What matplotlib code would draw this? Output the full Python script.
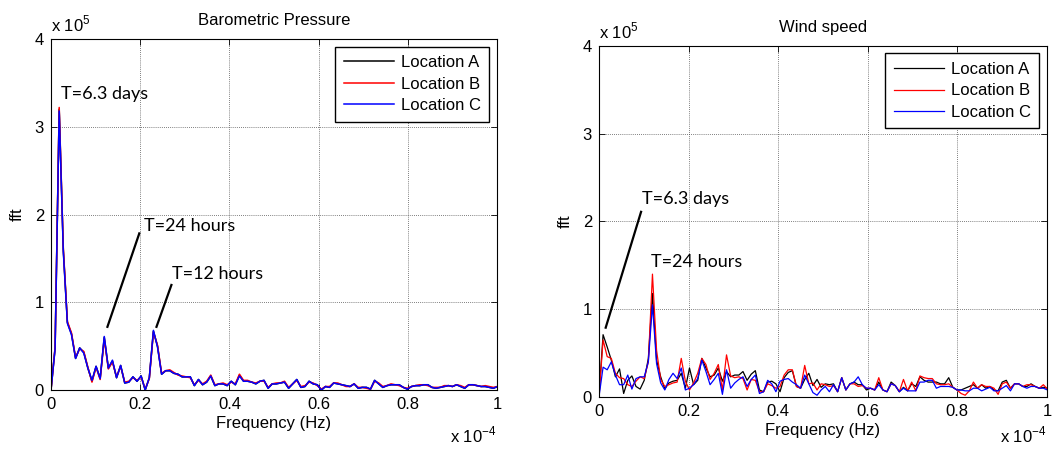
import numpy as np
import matplotlib
matplotlib.use('Agg')
import matplotlib.pyplot as plt

plt.rcParams['font.family'] = ['Liberation Sans', 'DejaVu Sans']
plt.rcParams['mathtext.fontset'] = 'custom'
plt.rcParams['mathtext.rm'] = 'Liberation Sans'

# FFT bins: record length of 12.6 days -> bin width 1/(12.6 d)
record_days = 12.6

# barometric pressure spectra (units of 1e5)
pres_a = [0.00, 0.48, 3.20, 1.60, 0.77, 0.64, 0.36, 0.48, 0.43, 0.25,
          0.10, 0.27, 0.13, 0.60, 0.25, 0.33, 0.14, 0.28, 0.08, 0.09,
          0.15, 0.10, 0.16, 0.00, 0.14, 0.67, 0.50, 0.18, 0.22, 0.22,
          0.19, 0.18, 0.15, 0.15, 0.15, 0.05, 0.12, 0.06, 0.09, 0.16,
          0.05, 0.07, 0.07, 0.05, 0.10, 0.06, 0.17, 0.10, 0.10, 0.09,
          0.07, 0.10, 0.11, 0.02, 0.07, 0.07, 0.08, 0.09, 0.02, 0.07,
          0.12, 0.03, 0.04, 0.10, 0.07, 0.06, 0.00, 0.04, 0.03, 0.08,
          0.07, 0.06, 0.05, 0.04, 0.07, 0.02, 0.03, 0.03, 0.01, 0.11,
          0.07, 0.03, 0.05, 0.06, 0.06, 0.06, 0.03, 0.01, 0.04, 0.05,
          0.05, 0.06, 0.06, 0.03, 0.02, 0.03, 0.04, 0.05, 0.04, 0.06,
          0.04, 0.02, 0.06, 0.06, 0.05, 0.04, 0.04, 0.03, 0.02, 0.04]
pres_b = [0.00, 0.49, 3.22, 1.62, 0.78, 0.65, 0.37, 0.47, 0.44, 0.26,
          0.09, 0.26, 0.12, 0.58, 0.24, 0.32, 0.15, 0.27, 0.09, 0.10,
          0.14, 0.11, 0.15, 0.01, 0.13, 0.66, 0.51, 0.19, 0.22, 0.23,
          0.20, 0.17, 0.16, 0.15, 0.14, 0.06, 0.11, 0.07, 0.10, 0.17,
          0.06, 0.07, 0.08, 0.06, 0.09, 0.07, 0.18, 0.11, 0.11, 0.09,
          0.08, 0.10, 0.10, 0.03, 0.07, 0.08, 0.08, 0.10, 0.03, 0.07,
          0.11, 0.04, 0.05, 0.09, 0.08, 0.05, 0.01, 0.04, 0.04, 0.08,
          0.08, 0.06, 0.04, 0.04, 0.07, 0.03, 0.03, 0.02, 0.01, 0.10,
          0.08, 0.04, 0.05, 0.07, 0.06, 0.05, 0.03, 0.02, 0.04, 0.05,
          0.06, 0.06, 0.05, 0.03, 0.03, 0.03, 0.05, 0.05, 0.04, 0.06,
          0.05, 0.03, 0.06, 0.06, 0.05, 0.04, 0.05, 0.04, 0.03, 0.04]
pres_c = [0.00, 0.47, 3.18, 1.58, 0.76, 0.63, 0.36, 0.48, 0.42, 0.25,
          0.11, 0.27, 0.13, 0.61, 0.25, 0.34, 0.14, 0.28, 0.08, 0.09,
          0.15, 0.10, 0.16, 0.00, 0.14, 0.68, 0.49, 0.18, 0.22, 0.22,
          0.19, 0.18, 0.15, 0.15, 0.15, 0.05, 0.12, 0.06, 0.09, 0.16,
          0.05, 0.07, 0.07, 0.05, 0.10, 0.06, 0.16, 0.10, 0.10, 0.09,
          0.07, 0.10, 0.11, 0.02, 0.07, 0.07, 0.08, 0.09, 0.02, 0.07,
          0.12, 0.03, 0.04, 0.10, 0.07, 0.06, 0.00, 0.04, 0.03, 0.08,
          0.07, 0.06, 0.05, 0.04, 0.07, 0.02, 0.03, 0.03, 0.01, 0.11,
          0.07, 0.03, 0.05, 0.06, 0.06, 0.06, 0.03, 0.01, 0.04, 0.05,
          0.05, 0.06, 0.06, 0.03, 0.02, 0.03, 0.04, 0.05, 0.04, 0.06,
          0.04, 0.02, 0.06, 0.06, 0.05, 0.04, 0.04, 0.03, 0.02, 0.04]

# wind speed spectra (units of 1e5)
wind_a = [0.00, 0.71, 0.57, 0.42, 0.23, 0.32, 0.04, 0.19, 0.24, 0.12,
          0.09, 0.19, 0.44, 1.18, 0.42, 0.23, 0.09, 0.16, 0.18, 0.19,
          0.27, 0.10, 0.33, 0.14, 0.19, 0.44, 0.33, 0.23, 0.25, 0.33,
          0.18, 0.29, 0.23, 0.25, 0.25, 0.29, 0.19, 0.26, 0.30, 0.08,
          0.06, 0.17, 0.18, 0.15, 0.06, 0.22, 0.28, 0.30, 0.12, 0.10,
          0.20, 0.27, 0.13, 0.20, 0.11, 0.15, 0.14, 0.15, 0.06, 0.22,
          0.08, 0.15, 0.17, 0.14, 0.14, 0.08, 0.10, 0.08, 0.17, 0.08,
          0.06, 0.17, 0.13, 0.06, 0.11, 0.07, 0.15, 0.12, 0.23, 0.19,
          0.17, 0.17, 0.17, 0.15, 0.15, 0.22, 0.11, 0.08, 0.08, 0.10,
          0.12, 0.14, 0.10, 0.14, 0.10, 0.12, 0.08, 0.07, 0.17, 0.19,
          0.10, 0.15, 0.15, 0.12, 0.12, 0.15, 0.12, 0.10, 0.11, 0.10]
wind_b = [0.00, 0.65, 0.46, 0.44, 0.27, 0.22, 0.21, 0.14, 0.12, 0.18,
          0.23, 0.21, 0.40, 1.40, 0.53, 0.20, 0.12, 0.14, 0.16, 0.17,
          0.44, 0.18, 0.08, 0.16, 0.27, 0.44, 0.37, 0.20, 0.27, 0.37,
          0.08, 0.48, 0.24, 0.22, 0.23, 0.21, 0.08, 0.20, 0.19, 0.06,
          0.06, 0.15, 0.13, 0.10, 0.12, 0.25, 0.31, 0.31, 0.12, 0.10,
          0.36, 0.15, 0.16, 0.08, 0.15, 0.14, 0.12, 0.13, 0.06, 0.22,
          0.08, 0.15, 0.15, 0.12, 0.13, 0.10, 0.10, 0.08, 0.22, 0.08,
          0.06, 0.15, 0.13, 0.06, 0.20, 0.07, 0.17, 0.07, 0.24, 0.22,
          0.21, 0.21, 0.15, 0.14, 0.14, 0.15, 0.11, 0.08, 0.04, 0.02,
          0.07, 0.17, 0.10, 0.14, 0.12, 0.12, 0.10, 0.03, 0.15, 0.17,
          0.10, 0.15, 0.15, 0.12, 0.14, 0.14, 0.12, 0.10, 0.14, 0.09]
wind_c = [0.00, 0.34, 0.31, 0.40, 0.25, 0.14, 0.14, 0.25, 0.09, 0.21,
          0.23, 0.23, 0.40, 1.05, 0.38, 0.16, 0.08, 0.20, 0.27, 0.21,
          0.33, 0.08, 0.10, 0.14, 0.21, 0.42, 0.29, 0.14, 0.20, 0.27,
          0.03, 0.31, 0.10, 0.16, 0.20, 0.23, 0.12, 0.20, 0.25, 0.04,
          0.06, 0.19, 0.15, 0.06, 0.18, 0.20, 0.21, 0.17, 0.14, 0.10,
          0.25, 0.15, 0.05, 0.02, 0.08, 0.12, 0.06, 0.14, 0.06, 0.22,
          0.08, 0.15, 0.17, 0.23, 0.14, 0.10, 0.10, 0.08, 0.14, 0.08,
          0.06, 0.15, 0.13, 0.06, 0.10, 0.07, 0.07, 0.07, 0.17, 0.17,
          0.19, 0.19, 0.10, 0.12, 0.12, 0.12, 0.11, 0.08, 0.08, 0.07,
          0.07, 0.10, 0.10, 0.07, 0.09, 0.11, 0.07, 0.07, 0.10, 0.13,
          0.07, 0.15, 0.15, 0.12, 0.10, 0.12, 0.12, 0.10, 0.10, 0.08]

labels = ['Location A', 'Location B', 'Location C']
colors = ['black', 'red', 'blue']

freq = np.arange(len(pres_a)) / (record_days * 86400.0) * 1e4  # in 1e-4 Hz

fig = plt.figure(figsize=(10.56, 4.5), dpi=100)
ax1 = fig.add_axes([0.0483, 0.1333, 0.4223, 0.78])
ax2 = fig.add_axes([0.5672, 0.1178, 0.4242, 0.78])


def style(ax, title, series, lw, exp_y):
    for s, c, l in zip(series, colors, labels):
        ax.plot(freq, s, color=c, lw=lw, label=l)
    ax.set_xlim(0, 1)
    ax.set_ylim(0, 4)
    ax.set_xticks([0, 0.2, 0.4, 0.6, 0.8, 1.0])
    ax.set_xticklabels(['0', '0.2', '0.4', '0.6', '0.8', '1'])
    ax.set_yticks([0, 1, 2, 3, 4])
    ax.grid(True, color='#555555', linestyle=(0, (1, 1.5)), linewidth=0.6)
    ax.tick_params(direction='in', top=True, right=True, labelsize=12,
                   length=4, width=0.6, pad=5)
    for sp in ax.spines.values():
        sp.set_linewidth(0.8)
    ax.set_title(title, fontsize=12, pad=10)
    ax.set_xlabel('Frequency (Hz)', fontsize=12, labelpad=3)
    ax.set_ylabel('fft', fontsize=12, labelpad=7)
    ax.text(0, 1.012, 'x 10$^{5}$', transform=ax.transAxes, fontsize=12,
            ha='left', va='bottom')
    ax.text(1, exp_y, 'x 10$^{-4}$', transform=ax.transAxes, fontsize=12,
            ha='right', va='baseline')
    leg = ax.legend(loc='upper right', fontsize=12, handlelength=3.0,
                    handletextpad=0.45, labelspacing=0.4, borderpad=0.5,
                    fancybox=False, framealpha=1, edgecolor='black',
                    borderaxespad=0.45)
    leg.get_frame().set_linewidth(1.0)


style(ax1, 'Barometric Pressure', [pres_a, pres_b, pres_c], 1.1, -0.148)
style(ax2, 'Wind speed', [wind_a, wind_b, wind_c], 0.9, -0.13)

afont = dict(family=['Lato', 'DejaVu Sans'], fontsize=13, va='center', ha='left')

ax1.text(0.022, 3.37, 'T=6.3 days', **afont)
ax1.text(0.209, 1.87, 'T=24 hours', **afont)
ax1.plot([0.198, 0.1265], [1.785, 0.72], color='black', lw=1.6)
ax1.text(0.272, 1.32, 'T=12 hours', **afont)
ax1.plot([0.270, 0.2365], [1.197, 0.72], color='black', lw=1.6)

ax2.text(0.097, 2.26, 'T=6.3 days', **afont)
ax2.plot([0.094, 0.015], [2.11, 0.79], color='black', lw=1.6)
ax2.text(0.117, 1.54, 'T=24 hours', **afont)

fig.savefig('out.png', dpi=100)
